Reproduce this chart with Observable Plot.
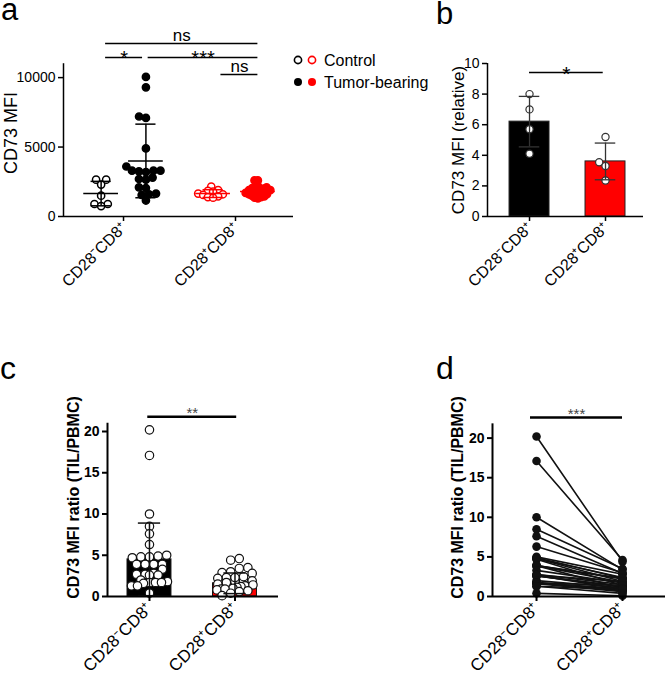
<!DOCTYPE html>
<html><head><meta charset="utf-8">
<script src="https://cdn.jsdelivr.net/npm/d3@7"></script>
<script src="https://cdn.jsdelivr.net/npm/@observablehq/plot@0.6"></script>
<style>
body{margin:0;background:#fff;font-family:"Liberation Sans",Arial,sans-serif;}
#root{position:relative;width:666px;height:681px;overflow:hidden;background:#fff;}
.p{position:absolute;}
#overlay{position:absolute;left:0;top:0;pointer-events:none;}
</style></head><body><div id="root">
<div class="p" id="pa" style="left:0;top:0"></div>
<div class="p" id="pb" style="left:430px;top:0"></div>
<div class="p" id="pc" style="left:0;top:330px"></div>
<div class="p" id="pd" style="left:360px;top:330px"></div>
<svg id="overlay" width="666" height="681" font-family="Liberation Sans, Arial, sans-serif">
  <text x="1" y="20" font-size="31">a</text>
  <text x="436" y="24" font-size="31">b</text>
  <text x="0" y="379" font-size="32">c</text>
  <text x="436" y="379" font-size="32">d</text>
  <circle cx="298" cy="60" r="3.6" fill="white" stroke="black" stroke-width="1.6"/>
  <circle cx="312" cy="60" r="3.6" fill="white" stroke="red" stroke-width="1.6"/>
  <text x="324" y="65.5" font-size="16">Control</text>
  <circle cx="298" cy="82" r="4" fill="black"/>
  <circle cx="312" cy="82" r="4" fill="red"/>
  <text x="324" y="88" font-size="16">Tumor-bearing</text>
</svg>
</div>
<script>
// ---------- data ----------
const catLabels = ["CD28\u207BCD8\u207A", "CD28\u207ACD8\u207A"];
// panel a: CD73 MFI
const aControlNeg = [2650, 2650, 2300, 1500, 900, 900, 750];
const aTumorNeg = [10050, 9300, 7200, 7100, 4900, 3600, 3300, 3300, 3300, 3250, 3200, 2800, 2700, 2650, 2100, 2050, 1650, 1600, 1550, 1150];
const aControlPos = [2150, 1900, 1850, 1800, 1650, 1600, 1550, 1450, 1400, 1350];
const aTumorPos = [2600, 2600, 2200, 2100, 2050, 2000, 2000, 1950, 1900, 1900, 1850, 1800, 1800, 1750, 1700, 1700, 1650, 1600, 1600, 1550, 1500, 1450, 1400, 1350, 1300];
const aMeans = [1650, 4000, 1650, 1800];
const aSD = [880, 2650, 280, 330];
const aTicks = [0, 5000, 10000];
// panel b: CD73 MFI (relative)
const bNeg = [8.0, 7.0, 5.7, 4.1];
const bPos = [5.2, 3.55, 3.3, 2.35];
const bMeans = [6.2, 3.6];
const bSD = [1.65, 1.2];
const bTicks = [0, 2, 4, 6, 8, 10];
// panels c, d: CD73 MFI ratio (TIL/PBMC), paired by patient
const ratioNeg = [20.2, 17.1, 10.0, 8.5, 7.6, 6.3, 5.0, 4.9, 4.8, 4.8, 4.7, 3.9, 3.9, 3.9, 3.9, 3.3, 2.8, 2.7, 2.7, 2.6, 2.6, 2.0, 1.8, 1.7, 1.7, 1.7, 1.6, 1.3, 1.3, 0.4];
const ratioPos = [4.4, 4.6, 3.4, 3.5, 2.9, 3.0, 2.8, 2.3, 1.9, 2.4, 1.4, 2.2, 1.8, 2.3, 1.0, 1.7, 1.5, 1.9, 0.9, 1.3, 1.2, 1.1, 0.8, 1.4, 0.7, 1.0, 0.6, 0.9, 0.4, 0.1];
const cMeans = [4.5, 1.6];
const cSD = [4.4, 1.25];
const cTicks = [0, 5, 10, 15, 20];

// ---------- helpers ----------
const FONT = '"Liberation Sans", Arial, sans-serif';
function swarm(values, ypx, diam) {
  const order = values.map((v, i) => i).sort((a, b) => ypx(values[b]) - ypx(values[a]));
  const placed = [], out = new Array(values.length);
  for (const i of order) {
    const y = ypx(values[i]);
    const near = placed.filter(p => Math.abs(p.y - y) < diam);
    const cands = [0];
    for (const p of near) {
      const dx = Math.sqrt(diam * diam - (p.y - y) ** 2);
      cands.push(p.x + dx, p.x - dx);
    }
    cands.sort((a, b) => Math.abs(a) - Math.abs(b) || a - b);
    let x = 0;
    for (const c of cands) {
      if (near.every(p => (p.x - c) ** 2 + (p.y - y) ** 2 >= diam * diam - 1e-6)) { x = c; break; }
    }
    placed.push({x, y}); out[i] = x;
  }
  return out;
}
// row-style scatter (points with close values share a row, spread evenly, width capped)
function rows(values, ypx, spacing, rowH, maxW) {
  const order = values.map((v, i) => i).sort((a, b) => ypx(values[b]) - ypx(values[a]));
  const out = new Array(values.length);
  let row = [], y0 = null;
  const flush = () => {
    const n = row.length;
    const sp = n > 1 ? Math.min(spacing, maxW / (n - 1)) : 0;
    row.forEach((i, j) => { out[i] = (j - (n - 1) / 2) * sp; });
    row = [];
  };
  for (const i of order) {
    const y = ypx(values[i]);
    if (y0 === null || Math.abs(y - y0) > rowH) { if (row.length) flush(); y0 = y; }
    row.push(i);
  }
  if (row.length) flush();
  return out;
}
function errorMarks(stats, capHalf, opts) {
  return [
    Plot.ruleX(stats, {x: "cx", y1: d => d.mean - d.sd, y2: d => d.mean + d.sd, ...opts}),
    Plot.ruleY(stats, {y: d => d.mean + d.sd, x1: d => d.cx - capHalf, x2: d => d.cx + capHalf, ...opts}),
    Plot.ruleY(stats, {y: d => d.mean - d.sd, x1: d => d.cx - capHalf, x2: d => d.cx + capHalf, ...opts})
  ];
}
const baseStyle = {fontFamily: FONT, fontSize: "14px", overflow: "visible", background: "transparent", color: "black"};

// ---------- panel a ----------
{
  const W = 300, H = 330, ml = 63, mr = 7, mt = 41, mb = 114;
  const xd = [0.464, 2.518], yd = [0, 12600];
  const ypx = d3.scaleLinear(yd, [H - mb, mt]);
  const upp = (xd[1] - xd[0]) / (W - ml - mr);
  const groups = [
    {cat: 1, side: -1, vals: aControlNeg, stroke: "black", fill: "white", diam: 7},
    {cat: 1, side: 1, vals: aTumorNeg, stroke: "black", fill: "black", diam: 7},
    {cat: 2, side: -1, vals: aControlPos, stroke: "red", fill: "white", diam: 5.2},
    {cat: 2, side: 1, vals: aTumorPos, stroke: "red", fill: "red", diam: 3.4}
  ];
  const marks = [];
  const stats = [];
  groups.forEach((g, gi) => {
    const cx = g.cat + 0.2 * g.side;
    const off = swarm(g.vals, ypx, g.diam);
    const pts = g.vals.map((v, i) => ({x: cx + off[i] * upp, y: v}));
    marks.push(Plot.dot(pts, {x: "x", y: "y", r: 3.6, stroke: g.stroke, fill: g.fill, strokeWidth: 1.5}));
    stats.push({cx, mean: aMeans[gi], sd: aSD[gi], color: g.stroke});
  });
  const blk = stats.filter(d => d.color === "black"), rd = stats.filter(d => d.color === "red");
  marks.push(...errorMarks(blk, 0.09, {stroke: "black", strokeWidth: 1.5}));
  marks.push(...errorMarks(rd, 0.09, {stroke: "red", strokeWidth: 1.5}));
  marks.push(Plot.ruleY(blk, {y: "mean", x1: d => d.cx - 0.155, x2: d => d.cx + 0.155, stroke: "black", strokeWidth: 1.5}));
  marks.push(Plot.ruleY(rd, {y: "mean", x1: d => d.cx - 0.155, x2: d => d.cx + 0.155, stroke: "red", strokeWidth: 1.5}));
  const sig = [
    {label: "ns", x1: 0.84, x2: 2.2, y: 12455},
    {label: "*", x1: 0.84, x2: 1.17, y: 11447},
    {label: "***", x1: 1.22, x2: 2.2, y: 11447},
    {label: "ns", x1: 1.87, x2: 2.2, y: 10223}
  ];
  const el = Plot.plot({
    width: W, height: H, marginLeft: ml, marginRight: mr, marginTop: mt, marginBottom: mb,
    x: {domain: xd}, y: {domain: yd},
    style: baseStyle,
    marks: [
      Plot.ruleY([0], {strokeWidth: 1.5}),
      Plot.ruleX([xd[0]], {y1: 0, y2: 11000, strokeWidth: 1.5}),
      Plot.axisY({ticks: aTicks, tickFormat: "d", tickSize: 5, tickPadding: 3, label: null, fontSize: 14, strokeWidth: 1.5}),
      Plot.axisX({ticks: [1, 2], tickFormat: i => catLabels[i - 1], tickSize: 5, tickPadding: 4, tickRotate: -45, label: null, fontSize: 16, strokeWidth: 1.5}),
      Plot.text(["CD73 MFI"], {frameAnchor: "left", textAnchor: "middle", dx: -52, dy: 4, rotate: -90, fontSize: 18}),
      ...marks,
      Plot.ruleY(sig, {y: "y", x1: "x1", x2: "x2", strokeWidth: 1.5}),
      Plot.text(sig.filter(d => d.label === "ns"), {x: d => (d.x1 + d.x2) / 2, y: "y", text: "label", lineAnchor: "bottom", dy: -3, fontSize: 17}),
      Plot.text(sig.filter(d => d.label !== "ns"), {x: d => (d.x1 + d.x2) / 2, y: "y", text: "label", lineAnchor: "bottom", dy: 7, fontSize: 20})
    ]
  });
  document.getElementById("pa").append(el);
}

// ---------- panel b ----------
{
  const W = 236, H = 330, ml = 57, mr = 23, mt = 63, mb = 114;
  const xd = [0.447, 2.5], yd = [0, 10];
  const ypx = d3.scaleLinear(yd, [H - mb, mt]);
  const upp = (xd[1] - xd[0]) / (W - ml - mr);
  const sets = [bNeg, bPos];
  const bars = bMeans.map((m, i) => ({cx: i + 1, mean: m, sd: bSD[i], fill: i === 0 ? "black" : "red"}));
  const pts = [];
  sets.forEach((vals, i) => {
    const off = swarm(vals, ypx, 7.4);
    vals.forEach((v, j) => pts.push({x: i + 1 + off[j] * upp, y: v}));
  });
  const sig = [{label: "*", x1: 1, x2: 1.97, y: 9.41}];
  const el = Plot.plot({
    width: W, height: H, marginLeft: ml, marginRight: mr, marginTop: mt, marginBottom: mb,
    x: {domain: xd}, y: {domain: yd},
    style: baseStyle,
    marks: [
      Plot.rect(bars, {x1: d => d.cx - 0.263, x2: d => d.cx + 0.263, y1: () => 0, y2: "mean", fill: "fill", stroke: "#222", strokeWidth: 1}),
      Plot.dot(pts, {x: "x", y: "y", r: 3.6, fill: "white", stroke: "#333", strokeWidth: 1.2}),
      ...errorMarks(bars, 0.135, {stroke: "#333", strokeWidth: 1.3}),
      Plot.ruleY([0], {strokeWidth: 1.5}),
      Plot.ruleX([xd[0]], {y1: 0, y2: 10, strokeWidth: 1.5}),
      Plot.axisY({ticks: bTicks, tickSize: 5, tickPadding: 3, label: null, fontSize: 14, strokeWidth: 1.5}),
      Plot.axisX({ticks: [1, 2], tickFormat: i => catLabels[i - 1], tickSize: 5, tickPadding: 4, tickRotate: -45, label: null, fontSize: 16, strokeWidth: 1.5}),
      Plot.text(["CD73 MFI (relative)"], {frameAnchor: "left", textAnchor: "middle", dx: -29, rotate: -90, fontSize: 17}),
      Plot.ruleY(sig, {y: "y", x1: "x1", x2: "x2", strokeWidth: 1.5}),
      Plot.text(sig, {x: d => (d.x1 + d.x2) / 2, y: "y", text: "label", lineAnchor: "bottom", dy: 8, fontSize: 21})
    ]
  });
  document.getElementById("pb").append(el);
}

// ---------- panel c ----------
{
  const W = 300, H = 351, ml = 107, mr = 22, mt = 68, mb = 85;
  const xd = [0.509, 2.509], yd = [0, 24];
  const ypx = d3.scaleLinear(yd, [H - mb, mt]);
  const upp = (xd[1] - xd[0]) / (W - ml - mr);
  const sets = [ratioNeg, ratioPos];
  const bars = cMeans.map((m, i) => ({cx: i + 1, mean: m, sd: cSD[i], fill: i === 0 ? "black" : "red"}));
  const pts = [];
  sets.forEach((vals, i) => {
    const off = rows(vals, ypx, 8.6, 5.5, 36);
    vals.forEach((v, j) => pts.push({x: i + 1 + off[j] * upp, y: v}));
  });
  const sig = [{label: "**", x1: 0.98, x2: 2.02, y: 21.8}];
  const el = Plot.plot({
    width: W, height: H, marginLeft: ml, marginRight: mr, marginTop: mt, marginBottom: mb,
    x: {domain: xd}, y: {domain: yd},
    style: baseStyle,
    marks: [
      Plot.rect(bars, {x1: d => d.cx - 0.257, x2: d => d.cx + 0.257, y1: () => 0, y2: "mean", fill: "fill", stroke: "#111", strokeWidth: 1}),
      Plot.dot(pts, {x: "x", y: "y", r: 4.2, fill: "white", stroke: "#111", strokeWidth: 1.2}),
      ...errorMarks(bars, 0.13, {stroke: "#111", strokeWidth: 1.5}),
      Plot.ruleY([0], {strokeWidth: 2}),
      Plot.ruleX([xd[0]], {y1: 0, y2: 21, strokeWidth: 2}),
      Plot.axisY({ticks: cTicks, tickSize: 5, tickPadding: 3, label: null, fontSize: 14, fontWeight: "bold", strokeWidth: 2}),
      Plot.axisX({ticks: [1, 2], tickFormat: i => catLabels[i - 1], tickSize: 5, tickPadding: 4, tickRotate: -45, label: null, fontSize: 17, strokeWidth: 2}),
      Plot.text(["CD73 MFI ratio (TIL/PBMC)"], {frameAnchor: "left", textAnchor: "middle", dx: -34, rotate: -90, fontSize: 16, fontWeight: "bold"}),
      Plot.ruleY(sig, {y: "y", x1: "x1", x2: "x2", strokeWidth: 2.5}),
      Plot.text(sig, {x: d => (d.x1 + d.x2) / 2, y: "y", text: "label", lineAnchor: "bottom", dy: 1, fontSize: 15, fill: "#444"})
    ]
  });
  document.getElementById("pc").append(el);
}

// ---------- panel d ----------
{
  const W = 306, H = 351, ml = 132, mr = 1, mt = 68, mb = 85;
  const xd = [0.488, 2.5], yd = [0, 25];
  const long = [];
  ratioNeg.forEach((v, i) => {
    long.push({id: i, cat: 1, value: v});
    long.push({id: i, cat: 2, value: ratioPos[i]});
  });
  const sig = [{label: "***", x1: 0.93, x2: 2.0, y: 22.6}];
  const el = Plot.plot({
    width: W, height: H, marginLeft: ml, marginRight: mr, marginTop: mt, marginBottom: mb,
    x: {domain: xd}, y: {domain: yd},
    style: baseStyle,
    marks: [
      Plot.line(long, {x: "cat", y: "value", z: "id", stroke: "#111", strokeWidth: 1.6}),
      Plot.dot(long, {x: "cat", y: "value", r: 4.3, fill: "#111"}),
      Plot.ruleY([0], {strokeWidth: 2}),
      Plot.ruleX([xd[0]], {y1: 0, y2: 21.8, strokeWidth: 2}),
      Plot.axisY({ticks: cTicks, tickSize: 5, tickPadding: 3, label: null, fontSize: 14, fontWeight: "bold", strokeWidth: 2}),
      Plot.axisX({ticks: [1, 2], tickFormat: i => catLabels[i - 1], tickSize: 5, tickPadding: 4, tickRotate: -45, label: null, fontSize: 17, strokeWidth: 2}),
      Plot.text(["CD73 MFI ratio (TIL/PBMC)"], {frameAnchor: "left", textAnchor: "middle", dx: -35, rotate: -90, fontSize: 16, fontWeight: "bold"}),
      Plot.ruleY(sig, {y: "y", x1: "x1", x2: "x2", strokeWidth: 2.5}),
      Plot.text(sig, {x: d => (d.x1 + d.x2) / 2, y: "y", text: "label", lineAnchor: "bottom", dy: 1, fontSize: 15, fill: "#444"})
    ]
  });
  document.getElementById("pd").append(el);
}
</script>
</body></html>
